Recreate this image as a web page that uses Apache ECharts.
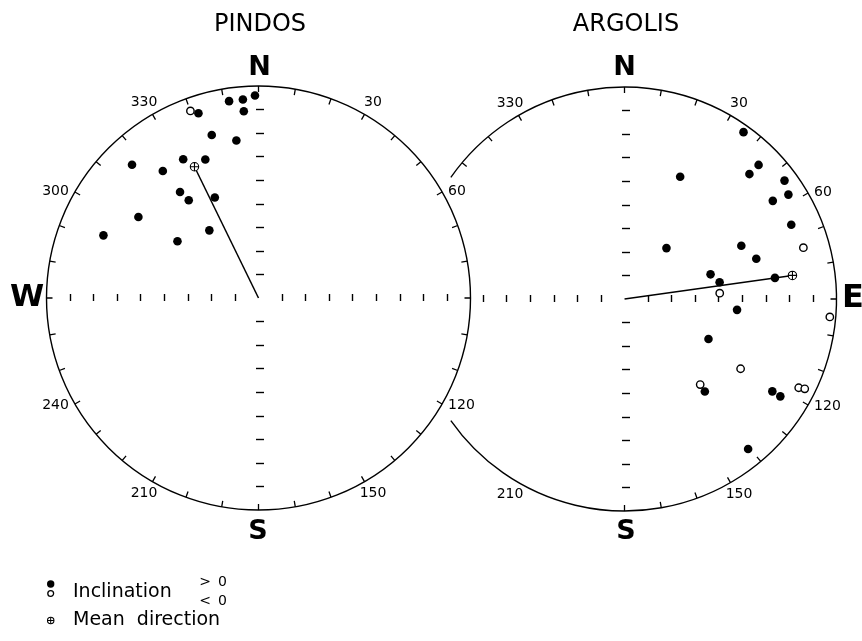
<!DOCTYPE html>
<html><head><meta charset="utf-8">
<script src="https://cdn.jsdelivr.net/npm/echarts@6/dist/echarts.min.js"></script>
<style>html,body{margin:0;padding:0;background:#fff}#c{width:862px;height:641px}</style>
</head><body><div id="c"></div>
<script>
// ---------- data (declination in degrees, inclination in degrees; negative = upward) ----------
const pindosDec = [359, 351.5, 355.5, 355.5, 342, 340, 344, 352, 316.5, 323, 331.5, 339, 323.5, 324.5, 336.5, 304, 292, 305, 324];
const pindosInc = [4, 5.5, 5.5, 10.5, 7.5, -5.5, 18, 22.5, 12, 22.5, 23, 27, 34, 39, 43.5, 28.5, 19, 48, 54.5];
const pindosMean = [334, 28];   // [dec, inc]

const argolisDec = [35.5, 45, 45, 53.5, 57.5, 56.5, 24.5, 66, 74, 39.5, 65.5, 73, 74, 80, 82, 86.5, 95.5, 95, 115.5, 121, 138.5, 139, 122, 122, 117, 116.5, 140.5];
const argolisInc = [3, 9.5, 15, 5.5, 7.5, 14.5, 33, 12.5, -11, 62, 35.5, 31.5, 52, 49, 25.5, -49.5, 42, -2.5, 50.5, -32.5, -41.5, 38, 16, 12, -7, -4.5, 7.5];
const argolisMean = [82, 18];

// ---------- axis ticks / labels ----------
const azimuthTicks = [0,10,20,30,40,50,60,70,80,90,100,110,120,130,140,150,160,170,180,190,200,210,220,230,240,250,260,270,280,290,300,310,320,330,340,350];
const azimuthLabelsLeft = [30, 60, 120, 150, 210, 240, 300, 330];
const azimuthLabelsRight = [330, 30, 60, 120, 150, 210];
const rightArcGap = [235, 305];          // part of the Argolis net outline that is not drawn
const radialTicks = [80, 70, 60, 50, 40, 30, 20, 10];
const radialTicksRightWest = [80, 70, 60, 50, 40, 30];

// ---------- layout ----------
const L = {cx: 258.5, cy: 298, r: 212};
const R = {cx: 624.5, cy: 299, r: 212};
const INK = '#000';
const FONT = 'DejaVu Sans';

const rightMin = rightArcGap[1] - 360, rightMax = rightArcGap[0];
const wrap = v => (v > 180 ? v - 360 : v);

function points(dec, inc, positive, toAxis) {
  const out = [];
  for (let i = 0; i < dec.length; i++) {
    if ((inc[i] >= 0) === positive) out.push([Math.abs(inc[i]), toAxis(dec[i])]);
  }
  return out;
}
const idL = v => v, idR = v => wrap(v);

const polar = [
  {center: [L.cx, L.cy], radius: L.r},
  {center: [R.cx, R.cy], radius: R.r}
];
const angleAxis = [
  {polarIndex: 0, type: 'value', min: 0, max: 360, interval: 10, startAngle: 90, clockwise: true,
   axisLine: {lineStyle: {color: INK, width: 1.4}},
   axisTick: {inside: true, length: 6, customValues: azimuthTicks, lineStyle: {color: INK, width: 1.3}},
   axisLabel: {show: false},
   splitLine: {show: false}},
  {polarIndex: 1, type: 'value', min: rightMin, max: rightMax, startAngle: 90 - rightMin, endAngle: 90 - rightMax, clockwise: true,
   axisLine: {lineStyle: {color: INK, width: 1.4}},
   axisTick: {inside: true, length: 6, customValues: azimuthTicks.map(wrap).filter(v => v > rightMin && v < rightMax), lineStyle: {color: INK, width: 1.3}},
   axisLabel: {show: false},
   splitLine: {show: false}}
];
const radiusAxis = [
  {polarIndex: 0, min: 0, max: 90, inverse: true, axisLine: {show: false}, axisTick: {show: false}, axisLabel: {show: false}, splitLine: {show: false}},
  {polarIndex: 1, min: 0, max: 90, inverse: true, axisLine: {show: false}, axisTick: {show: false}, axisLabel: {show: false}, splitLine: {show: false}}
];
// cross of short ticks along N, E, S, W radii of each net (ticks drawn on the CCW side; centre nudged so they straddle the diameter)
const dirs = [
  {a: 90,  dx: 5.5,  dy: 0,  len: 8},
  {a: 270, dx: -2.5, dy: 0,  len: 8},
  {a: 0,   dx: 0,    dy: 3,  len: 7},
  {a: 180, dx: 0,    dy: -4, len: 7}
];
[L, R].forEach((net, n) => {
  dirs.forEach(d => {
    const idx = polar.length;
    polar.push({center: [net.cx + d.dx, net.cy + d.dy], radius: net.r});
    angleAxis.push({polarIndex: idx, type: 'value', min: 0, max: 360, startAngle: d.a, show: false});
    radiusAxis.push({polarIndex: idx, min: 0, max: 90, inverse: true,
      axisLine: {show: false},
      axisTick: {show: true, length: d.len, customValues: (n === 1 && d.a === 180) ? radialTicksRightWest : radialTicks, lineStyle: {color: INK, width: 1.4}},
      axisLabel: {show: false}, splitLine: {show: false}});
  });
});

const meanSymbol = 'path://M0,-10A10,10 0 1,1 0,10A10,10 0 1,1 0,-10Z M-10,0L10,0 M0,-10L0,10';
const filled = {type: 'scatter', symbol: 'circle', symbolSize: 8.6, itemStyle: {color: INK, opacity: 1}, z: 4};
const open = {type: 'scatter', symbol: 'circle', symbolSize: 7.4, itemStyle: {color: '#fff', borderColor: INK, borderWidth: 1.4, opacity: 1}, z: 4};
const meanLine = {type: 'line', symbol: 'none', lineStyle: {color: INK, width: 1.5}, z: 3};
const meanDot = {type: 'scatter', symbol: meanSymbol, symbolSize: 8.4, itemStyle: {color: '#fff', borderColor: INK, borderWidth: 1.1, opacity: 1}, z: 5};

const series = [
  Object.assign({}, filled, {name: 'Pindos I>0', coordinateSystem: 'polar', polarIndex: 0, data: points(pindosDec, pindosInc, true, idL)}),
  Object.assign({}, open, {name: 'Pindos I<0', coordinateSystem: 'polar', polarIndex: 0, data: points(pindosDec, pindosInc, false, idL)}),
  Object.assign({}, meanLine, {name: 'Pindos mean line', coordinateSystem: 'polar', polarIndex: 0, data: [[90, pindosMean[0]], [pindosMean[1], pindosMean[0]]]}),
  Object.assign({}, meanDot, {name: 'Pindos mean', coordinateSystem: 'polar', polarIndex: 0, data: [[pindosMean[1], pindosMean[0]]]}),
  Object.assign({}, filled, {name: 'Argolis I>0', coordinateSystem: 'polar', polarIndex: 1, data: points(argolisDec, argolisInc, true, idR)}),
  Object.assign({}, open, {name: 'Argolis I<0', coordinateSystem: 'polar', polarIndex: 1, data: points(argolisDec, argolisInc, false, idR)}),
  Object.assign({}, meanLine, {name: 'Argolis mean line', coordinateSystem: 'polar', polarIndex: 1, data: [[90, wrap(argolisMean[0])], [argolisMean[1], wrap(argolisMean[0])]]}),
  Object.assign({}, meanDot, {name: 'Argolis mean', coordinateSystem: 'polar', polarIndex: 1, data: [[argolisMean[1], wrap(argolisMean[0])]]})
];

function txt(text, x, y, size, weight, align, valign) {
  return {type: 'text', x: x, y: y, style: {text: text, fill: INK, font: (weight || 'normal') + ' ' + size + 'px "' + FONT + '"', textAlign: align || 'center', textVerticalAlign: valign || 'middle'}};
}
const graphic = [
  txt('PINDOS', 260, 25, 24),
  txt('ARGOLIS', 626, 25, 24),
  txt('N', 259.5, 68, 27, 'bold'),
  txt('N', 624.5, 68, 27, 'bold'),
  txt('S', 258, 532, 27, 'bold'),
  txt('S', 626, 532, 27, 'bold'),
  txt('W', 27, 298, 31, 'bold'),
  txt('E', 853, 299, 32, 'bold'),
  // legend
  {type: 'circle', shape: {cx: 50.7, cy: 584, r: 3.7}, style: {fill: INK}},
  {type: 'circle', shape: {cx: 50.7, cy: 593.5, r: 2.9}, style: {fill: '#fff', stroke: INK, lineWidth: 1.3}},
  txt('Inclination', 73, 592, 19, 'normal', 'left'),
  txt('>', 205, 582.5, 14),
  txt('<', 205, 601.5, 14),
  txt('0', 222.5, 582.5, 14),
  txt('0', 222.5, 601.5, 14),
  {type: 'circle', shape: {cx: 50.7, cy: 620.5, r: 3.2}, style: {fill: '#fff', stroke: INK, lineWidth: 1.1}},
  {type: 'line', shape: {x1: 47.5, y1: 620.5, x2: 53.9, y2: 620.5}, style: {stroke: INK, lineWidth: 1}},
  {type: 'line', shape: {x1: 50.7, y1: 617.3, x2: 50.7, y2: 623.7}, style: {stroke: INK, lineWidth: 1}},
  txt('Mean  direction', 73, 620, 19, 'normal', 'left')
];

const chart = echarts.init(document.getElementById('c'), null, {renderer: 'canvas'});
chart.setOption({
  animation: false,
  backgroundColor: '#fff',
  polar: polar,
  angleAxis: angleAxis,
  radiusAxis: radiusAxis,
  series: series,
  graphic: graphic
});

// azimuth labels: placed next to the rim tick given by the polar coordinate system
function azLabel(polarIndex, az, axisVal) {
  const p = chart.convertToPixel({polarIndex: polarIndex}, [0, axisVal]);
  const s = Math.sin(az * Math.PI / 180), c = Math.cos(az * Math.PI / 180);
  if (Math.abs(s) > 0.8) {
    return txt(String(az), p[0] + (s > 0 ? 6 : -6), p[1] + (c > 0 ? -1 : 1.5), 14, 'normal', s > 0 ? 'left' : 'right');
  }
  return txt(String(az), p[0] + s * 17, p[1] - c * 13.5, 14);
}
const labelGraphics = graphic.slice();
azimuthLabelsLeft.forEach(a => labelGraphics.push(azLabel(0, a, a)));
azimuthLabelsRight.forEach(a => labelGraphics.push(azLabel(1, a, wrap(a))));
chart.setOption({graphic: labelGraphics}, {replaceMerge: ['graphic']});
</script></body></html>
